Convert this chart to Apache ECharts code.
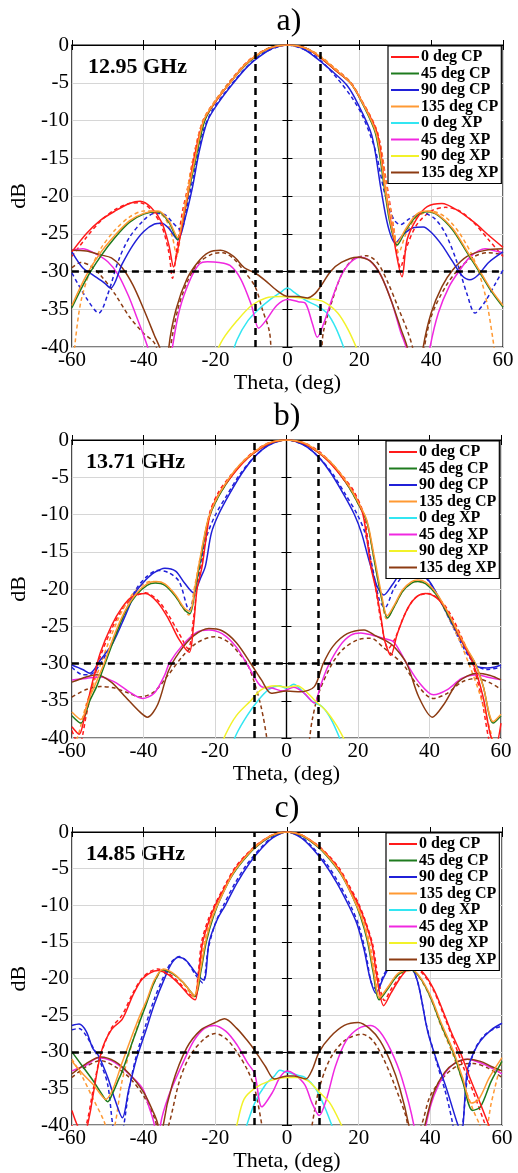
<!DOCTYPE html>
<html>
<head>
<meta charset="utf-8">
<script src="https://cdn.jsdelivr.net/npm/echarts@6/dist/echarts.min.js"></script>
<style>html,body{margin:0;padding:0;background:#fff}#main{width:518px;height:1173px}</style>
</head>
<body>
<div id="main"></div>
<script>
// legend names, colours
var names = ['0 deg CP', '45 deg CP', '90 deg CP', '135 deg CP', '0 deg XP', '45 deg XP', '90 deg XP', '135 deg XP'];
var colors = ['#ff1a1a', '#1e7b1e', '#2020d8', '#ff9933', '#33e6f2', '#f028e0', '#f2f22a', '#8c3b12'];
var panelTitles = ['a)', 'b)', 'c)'];
var freqs = ['12.95 GHz', '13.71 GHz', '14.85 GHz'];
var beamEdge = [-9, 9];   // vertical dashed lines
var xpLevel = -30;        // horizontal dashed line

// ---------- a) 12.95 GHz ----------
var a_cp0 = [[-60,-27.4],[-56,-25],[-52,-23.2],[-48,-22],[-44,-21],[-41,-20.7],[-38,-21.5],[-35,-23.5],[-33,-26.5],[-31.7,-29.4],[-30.5,-27],[-29,-23],[-27.8,-20],[-26,-15],[-23.3,-10],[-20,-7.5],[-16,-5],[-12,-2.7],[-9,-1.5],[-5,-0.4],[0,0],[5,-0.4],[9,-1.6],[13,-3.2],[17.5,-5],[20.5,-7.3],[25,-11.7],[27.2,-19],[29,-24],[31.9,-30.7],[33.3,-25.8],[36,-23],[38.9,-21.4],[43,-21],[47,-21.8],[52,-23.5],[56,-25.2],[60,-26.8]];
var a_cp45 = [[-60,-34.8],[-56,-31],[-52,-28],[-48,-25.5],[-44,-23.5],[-40,-22.4],[-36,-22.1],[-33,-23.5],[-30.5,-25.8],[-29,-23],[-27.3,-19],[-25.5,-15],[-23,-10],[-20,-7.5],[-16,-5],[-12,-2.8],[-9,-1.6],[-5,-0.4],[0,0],[5,-0.4],[9,-1.6],[13,-3.2],[17.5,-5],[20.5,-7.4],[24.5,-11.7],[27,-19],[28.5,-23.5],[30.5,-26.5],[33,-24.5],[36,-22.6],[39,-22.1],[42,-22.6],[46,-24.5],[50,-27.5],[54,-30.5],[57,-32.8],[60,-34.7]];
var a_cp90 = [[-60,-27.4],[-57,-29.5],[-54,-30.5],[-51,-31.5],[-49.2,-32.2],[-46,-29],[-43,-26.5],[-40,-24.7],[-37,-23.7],[-35,-23.6],[-33,-24.3],[-30.5,-25.8],[-28.5,-23],[-26.5,-19],[-24.5,-14],[-22.2,-10],[-19,-7.5],[-15,-5],[-11,-2.8],[-8,-1.6],[-4,-0.4],[0,0],[4,-0.4],[8,-1.7],[12,-3.3],[16.5,-5.3],[19.5,-7.7],[23.5,-12],[26,-19],[28,-24],[30,-26.2],[32.5,-25],[35,-24.2],[37.8,-24.1],[40,-24.8],[43,-26.5],[46,-28.7],[48.5,-30.5],[50.8,-31.1],[53,-30.5],[56,-28.8],[60,-27.4]];
var a_cp135 = [[-60,-34.5],[-56,-30.5],[-52,-27.5],[-48,-25.2],[-44,-23.3],[-40,-22.3],[-36,-22],[-33,-23.3],[-30.5,-25.5],[-29,-22.5],[-27.5,-19],[-25.7,-15],[-23.3,-10],[-20,-7.4],[-16,-5],[-12,-2.7],[-9,-1.5],[-5,-0.4],[0,0],[5,-0.4],[9,-1.5],[13,-3.1],[17.5,-5],[20.5,-7.3],[24.7,-11.7],[27.2,-19],[28.7,-23.5],[30.5,-26.2],[33,-24.3],[36,-22.4],[39,-22],[42,-22.5],[46,-24.3],[50,-27.3],[54,-30.3],[57,-32.6],[60,-34.5]];
var a_xp0 = [[-16,-42],[-14,-39],[-11,-36.5],[-8,-35],[-5,-33.8],[-2,-32.8],[0,-32.2],[2,-32.8],[5,-33.8],[8,-34.5],[11,-35.5],[13.5,-37.5],[16,-40.5]];
var a_xp45 = [[-60,-27.2],[-57,-27],[-54,-27.5],[-50,-28.7],[-47,-30.5],[-44,-33.5],[-42,-36],[-40,-38.5],[-38,-41.5],[-35,-50],[-32,-40],[-30,-35],[-27,-31],[-24.5,-29],[-22.3,-28.7],[-19,-28.8],[-16,-29.2],[-13,-31],[-10,-34.5],[-8,-37.5],[-6,-36.5],[-3,-34.5],[0,-33.7],[3,-34],[5,-34.2],[7,-37],[8.3,-38.7],[10,-37],[12.5,-33.5],[15,-30.5],[17.5,-28.8],[20.3,-28.1],[23,-28.6],[26,-30.5],[29,-34],[31.5,-38],[33.3,-40.5],[36,-50],[39.7,-40],[42,-35.5],[45,-32],[48,-29.8],[51,-28],[55,-27],[58,-27.3],[60,-27.5]];
var a_xp90 = [[-21,-42],[-18,-39],[-14,-36.5],[-10,-34.5],[-6,-33.5],[-2,-33.3],[2,-33.4],[6,-33.6],[10,-34],[14,-35.5],[17,-37.8],[20,-41]];
var a_xp135 = [[-60,-27.2],[-56,-27.3],[-52,-27.8],[-49,-28.2],[-46,-29.5],[-43,-31.8],[-40,-35],[-37,-38.5],[-35.3,-40.5],[-34,-48],[-33,-40],[-31,-35],[-28,-31],[-25,-28.8],[-22,-27.5],[-18.6,-27.2],[-15,-28],[-12,-29.5],[-9,-30.2],[-6.4,-31.1],[-3,-32.5],[0,-33.3],[3,-33.3],[5.6,-33.5],[7.5,-33],[9.2,-32],[12,-30],[15,-28.8],[19.4,-28.1],[23,-28.6],[26,-30.5],[29,-34],[31.5,-37.5],[33.6,-40.5],[35.5,-48],[37.8,-40],[40,-35.5],[43,-32],[46,-29.8],[50,-28],[55,-27.2],[60,-27]];
// simulated (dashed)
var a_cp0s = [[-60,-28],[-56,-25.5],[-52,-23.3],[-48,-21.8],[-44,-21],[-41,-20.9],[-38,-21.8],[-35,-24],[-33,-27.5],[-32,-30.9],[-30.8,-27],[-29.2,-22],[-27.8,-19],[-26,-14.5],[-23.5,-10],[-20,-7.3],[-16,-4.8],[-12,-2.6],[-9,-1.4],[-5,-0.4],[0,0],[5,-0.4],[9,-1.5],[13,-3],[17.5,-4.9],[20.5,-7.2],[25,-11.5],[27.5,-18],[29.5,-24],[31.5,-29.5],[33,-27],[36,-23.8],[40,-22],[44,-21.5],[48,-22],[52,-23.6],[56,-25.8],[60,-28]];
var a_cp90s = [[-60,-30.2],[-56,-33.5],[-52.5,-35.5],[-50,-33],[-47,-28.5],[-44,-25.5],[-40,-23.2],[-37,-22.3],[-34,-22.5],[-32,-23.5],[-29.7,-24.5],[-28,-21.5],[-26,-17],[-23.5,-11.5],[-21,-8.7],[-18,-6.7],[-14,-4.3],[-10,-2.3],[-6,-0.9],[0,0],[6,-0.9],[10,-2.4],[14,-4.5],[18,-7],[21,-9.5],[24.5,-14],[27,-19.5],[29.5,-23],[31.4,-23.8],[34,-23],[37.8,-22.3],[41,-23],[44,-25],[47,-28.5],[50,-33],[52.2,-35.5],[55,-34],[58,-31.5],[60,-29.8]];
var a_cp135s = [[-60,-44],[-59,-39],[-57.5,-34],[-55,-30],[-52,-27],[-48,-24.5],[-44,-22.8],[-40,-22],[-37,-22],[-34,-23],[-32,-25.5],[-30.8,-28],[-29.5,-24],[-27.8,-19],[-26,-14.5],[-23.5,-10],[-20,-7.3],[-16,-4.8],[-12,-2.6],[-9,-1.4],[-5,-0.4],[0,0],[5,-0.4],[9,-1.4],[13,-3],[17.5,-4.9],[20.5,-7.2],[25,-11.5],[27.5,-18.5],[29.5,-24],[31,-27.5],[33,-25],[36,-22.8],[40,-22],[44,-22.8],[48,-25],[52,-28.5],[55,-33],[57.2,-39],[58.5,-44]];
var a_xp135s = [[-60,-29.5],[-57.5,-28.8],[-55,-29.2],[-52,-30.5],[-48,-33],[-44,-36],[-40,-38.2],[-37,-39.5],[-35.5,-42],[-34,-48],[-32.5,-40],[-30.5,-35],[-28,-31.5],[-25,-29],[-21,-27.7],[-18,-27.5],[-15,-28.3],[-12,-30],[-9,-32],[-7,-35],[-5,-38],[-3,-45],[8,-45],[10,-38],[12.5,-33.8],[15,-30.5],[18,-28.5],[22,-27.9],[25,-28.8],[28,-31.5],[31,-35],[33.5,-38],[35,-40.5],[36.5,-48],[38,-40.5],[40,-36],[44,-32],[48,-29.5],[52,-28],[56,-27.5],[60,-27.8]];

// ---------- b) 13.71 GHz ----------
var b_cp0 = [[-60,-38.5],[-58,-39.5],[-56,-36],[-54,-32],[-52,-28.5],[-49,-25],[-46,-22.5],[-43,-21],[-39.4,-20.6],[-36,-21.8],[-33,-24],[-30,-26.8],[-27.2,-28.5],[-26,-25],[-25,-20],[-23.6,-17],[-21.4,-10],[-19,-7.3],[-16.2,-5.4],[-12,-3],[-9,-1.7],[-5,-0.5],[0,0],[5,-0.5],[9,-1.7],[12,-3],[16.2,-5.4],[19,-7.3],[21.4,-10],[23.6,-17],[25,-20],[26.5,-24],[27.5,-27],[29.2,-28.9],[31,-26],[34,-22.5],[36.5,-21],[38.9,-20.6],[42,-21.2],[45,-23],[48,-26],[52.2,-30],[55,-34.5],[57,-39.5],[58.5,-41],[60,-38]];
var b_cp45 = [[-60,-37],[-57.5,-38],[-55,-35],[-53,-33],[-51.4,-30.9],[-48,-26.5],[-45,-23],[-42,-20.8],[-39,-19.5],[-36.7,-19.2],[-34,-19.5],[-31,-21],[-28.5,-22.8],[-27,-23.3],[-25.5,-20],[-24,-16],[-22,-11],[-20,-8.5],[-17,-6],[-13,-3.4],[-9,-1.7],[-5,-0.5],[0,0],[5,-0.5],[9,-1.7],[13,-3.4],[17,-6],[20,-8.5],[22.5,-11],[24.5,-16],[26.5,-21],[28.3,-23.9],[30,-22.5],[32.5,-20.3],[35,-19.2],[36.7,-19],[39,-19.3],[42,-20.8],[45,-23.3],[48,-26],[50.5,-28.2],[52.8,-30],[55,-33],[57.8,-38],[60,-37]];
var b_cp90 = [[-60,-30.2],[-57,-30.8],[-55,-31.3],[-52,-29.5],[-48.6,-27.3],[-45,-23.5],[-42,-20.3],[-39.4,-18.8],[-37,-17.8],[-34,-17.2],[-31,-17.6],[-28.5,-19.2],[-26,-20.5],[-24,-18.5],[-22.7,-17],[-21,-12.5],[-19,-10],[-16,-7.3],[-12.5,-4.5],[-9,-2.3],[-5,-0.7],[0,0],[5,-0.7],[9,-2.3],[12.5,-4.5],[16,-7.3],[19,-10],[21,-12.5],[23,-16],[25.5,-19.8],[27.2,-20.8],[29.5,-19.5],[32,-17.8],[34.4,-17.2],[37,-17.6],[40,-19],[43,-21.5],[46,-24.3],[49,-27],[51.5,-29.2],[53.3,-30.4],[56,-30.6],[58,-30.5],[60,-30.2]];
var b_cp135 = [[-60,-36.5],[-57.5,-37.5],[-55,-34.5],[-53,-32.3],[-51,-30],[-48,-26],[-45,-22.8],[-42,-20.6],[-39,-19.3],[-36.5,-19],[-34,-19.3],[-31,-20.8],[-28.5,-22.6],[-27,-23],[-25.5,-19.5],[-24,-15.5],[-22,-10.8],[-20,-8.3],[-17,-5.8],[-13,-3.3],[-9,-1.6],[-5,-0.4],[0,0],[5,-0.4],[9,-1.6],[13,-3.3],[17,-5.8],[20,-8.3],[22.5,-10.8],[24.5,-15.5],[26.5,-20.5],[28.2,-23.6],[30,-22.3],[32.5,-20.1],[35,-19],[36.7,-18.8],[39,-19.1],[42,-20.6],[45,-23],[48,-25.8],[50.5,-28],[52.8,-30],[55,-33],[57.8,-37.8],[60,-36.8]];
var b_xp0 = [[-16,-42],[-14,-39.5],[-11,-37],[-8,-35],[-5,-33.5],[-2,-33],[0,-33.3],[2,-32.8],[4,-33.5],[7,-35],[10,-35.8],[12.5,-37.5],[15.3,-40.5]];
var b_xp45 = [[-60,-32.2],[-56,-32],[-52,-31.8],[-48,-32.5],[-44,-33.8],[-40.3,-34.7],[-37,-34],[-34,-31.5],[-32.8,-30],[-29,-27.5],[-25,-25.8],[-21.7,-25.5],[-18,-26],[-14,-27.8],[-10.5,-30.5],[-7,-33.1],[-4,-33.3],[-1,-33.7],[2,-33.2],[5,-34],[7.8,-35.3],[9.5,-33],[11.6,-30.4],[15,-27.6],[18,-26.2],[20.8,-25.9],[24,-26.2],[27,-26.6],[30,-27.1],[33.6,-30],[37,-32.5],[41.1,-34.2],[45,-33.5],[49,-32],[53,-31.5],[56,-31.8],[60,-32.2]];
var b_xp90 = [[-19,-42],[-17,-39.5],[-14,-37],[-10,-35],[-7,-33.5],[-3,-33],[0,-33.2],[3,-33],[6,-34],[8,-35],[11,-36.3],[14,-38.3],[16.5,-40.5]];
var b_xp135 = [[-60,-32.5],[-56,-31.8],[-53,-31.5],[-49,-32.5],[-45,-34.5],[-41,-36.5],[-38.9,-37.2],[-36,-35.5],[-33,-31],[-30,-28.5],[-26,-26.3],[-21.7,-25.3],[-18,-25.6],[-14,-27.2],[-9.7,-30.2],[-7,-32.2],[-4.2,-34],[0,-33.7],[4,-33.8],[7.8,-33.1],[10.3,-30],[13,-27.7],[17,-26],[21.7,-25.5],[25,-26.3],[28,-27],[30,-27.7],[33.6,-30],[37,-34.5],[40.8,-37.2],[44,-35.5],[48,-32.5],[53.3,-31.3],[57,-31.6],[60,-32.2]];
var b_cp0s = [[-60,-39],[-58,-41],[-56,-37],[-54,-32.5],[-52,-29],[-49,-25.5],[-46,-22.8],[-43,-21.2],[-39.5,-20.5],[-36,-21.5],[-33,-23.5],[-30,-26],[-27.5,-28],[-26,-24],[-24.8,-19],[-23.5,-16],[-21.6,-10],[-19,-7],[-16,-5],[-12,-2.8],[-9,-1.5],[-5,-0.4],[0,0],[5,-0.4],[9,-1.5],[12,-2.8],[16,-5],[19,-7],[21.6,-10],[23.5,-16],[25,-20],[26.5,-24.5],[28.5,-28],[30.5,-26.5],[33,-23.5],[36,-21.2],[39.5,-20.6],[43,-21.5],[46,-23.5],[49,-26.5],[52,-30],[54.5,-34.5],[56.5,-40],[58,-43],[60,-40]];
var b_cp90s = [[-60,-30.5],[-57,-31.5],[-55,-31.5],[-52,-30],[-48.6,-27],[-45,-23],[-42,-20],[-39,-18.3],[-36,-17.5],[-33,-17.8],[-30,-19],[-27.2,-22.8],[-25.5,-20],[-23.8,-16],[-22,-12.5],[-19.8,-10],[-16.5,-7.3],[-13,-4.6],[-9,-2.3],[-5,-0.7],[0,0],[5,-0.7],[9,-2.3],[13,-4.6],[16.5,-7.3],[19.8,-10],[22,-12.5],[24,-17],[26,-21.5],[27.5,-22.5],[30,-20],[33,-18],[35.5,-17.5],[38,-18],[41,-19.8],[44,-22.5],[47,-25.5],[50,-28.3],[53,-30.2],[56,-30.8],[60,-30.5]];
var b_cp135s = [[-60,-41],[-58.5,-40],[-56,-35.5],[-53,-31.5],[-50,-27.5],[-47,-24],[-44,-21.3],[-41,-19.7],[-38,-19],[-35,-19.2],[-32,-20.3],[-29,-22.5],[-27.3,-23.5],[-25.8,-20],[-24,-15.5],[-22,-11],[-20,-8.5],[-17,-6],[-13,-3.4],[-9,-1.7],[-5,-0.5],[0,0],[5,-0.5],[9,-1.7],[13,-3.4],[17,-6],[20,-8.5],[22.5,-11],[24.5,-16],[26.5,-21],[28,-24],[30,-22.5],[33,-20],[36,-19],[39,-19.3],[42,-20.8],[45,-23.5],[48,-26.5],[51,-30],[54,-34],[57,-39],[58.5,-42]];
var b_xp135s = [[-60,-34.5],[-56,-33.5],[-52,-33.1],[-48,-33.3],[-44,-34],[-41,-34.5],[-37,-33.8],[-33,-31.5],[-29,-29],[-25,-27.2],[-20,-26.4],[-16,-27.2],[-13,-28.8],[-11,-30],[-9,-32.5],[-7,-36],[-5.5,-40],[-4,-46],[5,-46],[6.5,-40],[7.2,-37.6],[9,-34],[12.8,-30],[16,-28],[20,-26.8],[23.6,-26.6],[27,-27.8],[30,-29],[32.5,-30],[36,-32.5],[41,-34.7],[45,-34],[49,-32.5],[53,-32],[57,-32.6],[60,-33.5]];

// ---------- c) 14.85 GHz ----------
var c_cp0 = [[-60,-38],[-58,-40.5],[-56.5,-41],[-55,-38.5],[-54.2,-36.2],[-51.8,-30],[-49,-27],[-45.9,-25.5],[-43,-22.3],[-40.6,-20.2],[-38,-19.2],[-36,-18.9],[-33,-19.5],[-30,-20.8],[-27.5,-22.2],[-25.6,-22.9],[-24.5,-19],[-23.6,-15.3],[-22,-12.5],[-20,-10],[-17,-7.3],[-14.4,-5],[-11,-3],[-8,-1.7],[-4,-0.4],[0,0],[4,-0.4],[8,-1.7],[11,-3],[14.4,-5],[17,-7.3],[20,-10],[22,-12.5],[23.8,-15.5],[25,-19.5],[27,-23.7],[29,-22],[31.5,-20],[33.5,-18.8],[35.5,-18.5],[38,-19.2],[41,-21.5],[44,-25],[46,-27.5],[48.3,-30],[51,-33.5],[53.5,-36.5],[56.3,-40],[58,-42]];
var c_cp45 = [[-60,-30],[-57,-32],[-54,-34],[-52,-35.5],[-50,-36.8],[-48.5,-35.5],[-47,-33.8],[-45.9,-32.6],[-43,-28.5],[-41,-25.8],[-39.4,-23.7],[-37,-20.5],[-34.7,-18.8],[-32,-19.3],[-29,-20.5],[-25.6,-22.4],[-24,-19],[-22.5,-15],[-20.5,-11.5],[-18,-8.5],[-15,-5.7],[-11,-3.2],[-8,-1.8],[-4,-0.5],[0,0],[4,-0.5],[8,-1.8],[11,-3.2],[15,-5.7],[18,-8.5],[20.5,-11.5],[22.5,-15],[24,-19],[25.7,-22.9],[28,-21.5],[31,-19.5],[34.4,-18.8],[37,-19.8],[40,-22.5],[43,-26.3],[46.3,-30],[49,-34],[51.8,-38],[54,-37.5],[57,-34],[60,-31.3]];
var c_cp90 = [[-60,-26.4],[-58,-26.2],[-56,-27.2],[-54.2,-29.5],[-52.6,-30.5],[-50,-33.5],[-48,-36.5],[-45.9,-39],[-44.2,-35.3],[-42,-31],[-39.5,-27.3],[-37,-23.5],[-34,-19.8],[-32,-17.8],[-30.2,-17.1],[-28,-17.6],[-25.5,-19.2],[-23.2,-20.2],[-21.7,-15],[-19.5,-12],[-17.2,-10],[-14,-7],[-10.5,-4.3],[-7,-2.2],[-4,-0.8],[0,0],[4,-0.8],[7,-2.2],[10.5,-4.3],[14,-7],[17.2,-10],[19.5,-12.5],[21.5,-16],[23.2,-20],[24.8,-22],[27,-19.8],[29.5,-17.7],[31.5,-17.2],[34,-17.8],[36.5,-20.5],[39.3,-27.3],[42,-31.5],[44.5,-35],[47.7,-40],[48.7,-41],[50.3,-32.6],[52.2,-30],[54,-28.5],[57,-27],[60,-26.1]];
var c_cp135 = [[-60,-31.3],[-57,-33],[-54,-34.5],[-52,-35.8],[-50.5,-36.5],[-48.5,-35],[-46,-31.5],[-43,-27.5],[-41,-25],[-39,-22.8],[-37,-20.2],[-34.5,-18.7],[-32,-19.2],[-29,-20.5],[-25.8,-22.3],[-24.2,-19],[-22.7,-15],[-20.7,-11.5],[-18,-8.5],[-15,-5.6],[-11,-3.1],[-8,-1.7],[-4,-0.4],[0,0],[4,-0.4],[8,-1.7],[11,-3.1],[15,-5.6],[18,-8.5],[20.7,-11.5],[22.7,-15],[24.2,-19],[25.8,-22.6],[28,-21.3],[31,-19.3],[34.5,-18.7],[37,-19.7],[40,-22.3],[43,-26],[46.5,-30],[49,-33.5],[51.5,-37],[53.5,-36.5],[56.5,-33.5],[60,-30.8]];
var c_xp0 = [[-12.5,-42],[-11.2,-40],[-9,-37],[-6,-34.5],[-3.5,-33.3],[-2,-32.5],[0,-32.8],[3,-33.2],[5,-33.5],[8,-35],[10.5,-37.5],[12.5,-40],[14,-42]];
var c_xp45 = [[-60,-32.6],[-56,-31.8],[-52.6,-30.8],[-49,-31.2],[-45,-32.6],[-40.3,-35],[-38.5,-37.5],[-37,-40],[-36,-46],[-35.3,-40],[-33,-36],[-29.2,-31.7],[-26,-28.5],[-23,-26.8],[-20.3,-26.4],[-17,-27.2],[-14,-29],[-11,-31.5],[-9,-33],[-7,-37.5],[-4,-35.5],[-2,-33.5],[0,-32.6],[2,-33],[5,-34.5],[7,-37],[9,-38.7],[11,-36.5],[13.5,-32],[16.5,-28.5],[20,-26.8],[23.4,-26.4],[26,-27.3],[29,-29.8],[32,-33.5],[35.4,-40],[37,-46],[38.8,-40],[41,-36],[44,-33],[47,-31.5],[50.4,-31],[54,-31.5],[57,-32.2],[60,-33]];
var c_xp90 = [[-15,-42],[-14,-40],[-12,-36.5],[-9,-35],[-5,-34],[0,-33.5],[3,-33.5],[6,-34],[9,-35.5],[12,-37],[15.2,-40],[17,-42]];
var c_xp135 = [[-60,-33],[-56,-31.6],[-52,-30.7],[-48,-31.3],[-44,-33],[-40,-35.5],[-37.5,-38],[-36,-40],[-35.5,-46],[-34.5,-40],[-32,-34.5],[-28,-29.5],[-24,-27],[-20,-26],[-17.4,-25.5],[-14,-26.8],[-11,-28.5],[-9,-29.8],[-6,-32],[-3.5,-33.7],[0,-33.3],[2,-33.3],[5.3,-33.7],[7,-32.5],[9,-30],[12,-28],[16,-26.4],[19.9,-26],[23,-26.8],[26,-28.5],[29,-31.5],[31.5,-35],[34,-40],[36,-46],[38.5,-40],[41,-35.5],[44,-32.8],[47,-31.5],[50.4,-31],[54,-31.3],[57,-32],[60,-32.6]];
var c_cp0s = [[-60,-40],[-58,-42],[-56,-40],[-54,-35],[-52,-30.5],[-49,-26.8],[-46,-25],[-43,-22],[-40.5,-20],[-38,-19],[-36,-18.7],[-33,-19.3],[-30,-20.6],[-27.5,-22],[-25.8,-22.5],[-24.7,-19],[-23.8,-15],[-22,-12],[-20,-9.8],[-17,-7],[-14.4,-4.8],[-11,-2.9],[-8,-1.6],[-4,-0.4],[0,0],[4,-0.4],[8,-1.6],[11,-2.9],[14.4,-4.8],[17,-7],[20,-9.8],[22,-12.3],[24,-15.5],[25.3,-19.5],[27.2,-23],[29,-21.5],[31.5,-19.8],[33.5,-18.8],[35.5,-18.6],[38,-19.4],[41,-21.7],[44,-25.3],[46.5,-28.5],[49,-31.8],[52,-35.5],[55,-39.5],[57,-42]];
var c_cp90s = [[-60,-27],[-58,-26.8],[-56,-27.8],[-54,-29.5],[-52,-31.5],[-50,-34.5],[-48.6,-40],[-47,-44],[-45.5,-40],[-44,-35],[-42,-30.5],[-39.5,-26.5],[-37,-22.8],[-34,-19.3],[-32,-17.6],[-30,-17],[-28,-17.6],[-25.5,-19.5],[-23.5,-20.6],[-22,-16],[-20,-12.5],[-17.7,-10],[-14.5,-7],[-11,-4.3],[-7,-2],[-4,-0.7],[0,0],[4,-0.7],[7,-2],[11,-4.3],[14.5,-7],[17.7,-10],[20,-12.7],[22,-16.5],[23.5,-20.5],[25,-21.5],[27,-19.5],[29.5,-17.6],[31.5,-17.1],[34,-17.8],[36.5,-20.5],[39,-26.5],[42,-31.8],[44.5,-36],[46.3,-40],[47.5,-44],[49,-40],[50.5,-33],[52.5,-29.6],[55,-27.8],[58,-26.8],[60,-26.5]];
var c_cp135s = [[-60,-31],[-57,-33.5],[-54,-36.5],[-51,-39.5],[-49.5,-42],[-48,-40],[-46,-34],[-43,-28.5],[-41,-25.5],[-39,-23],[-37,-20.5],[-34.5,-18.9],[-32,-19.3],[-29,-20.6],[-26,-22.5],[-24.5,-19],[-23,-15],[-21,-11.5],[-18,-8.3],[-15,-5.5],[-11,-3],[-8,-1.6],[-4,-0.4],[0,0],[4,-0.4],[8,-1.6],[11,-3],[15,-5.5],[18,-8.3],[21,-11.5],[23,-15],[24.5,-19],[26,-22.8],[28.5,-21],[31,-19.5],[34.5,-18.9],[37,-19.9],[40,-22.6],[43,-26.5],[46,-30],[49,-34],[52,-38],[53.8,-40],[55,-42],[57,-37],[60,-31]];
var c_xp135s = [[-60,-33.5],[-56,-32],[-52,-31.2],[-48,-32],[-44,-33.5],[-40,-36],[-37,-39],[-35,-42],[-33,-40],[-30,-34],[-27,-30.5],[-23,-28.2],[-20,-27.5],[-17,-28.2],[-14,-30],[-11,-32.5],[-9,-35],[-7,-40],[-5,-46],[5,-46],[7,-40],[9,-35],[12,-31],[16,-28.5],[21,-27.6],[24,-28.5],[27,-31],[30,-34.5],[33,-38.5],[35,-42],[37.5,-40],[40,-36],[44,-33.3],[48,-31.8],[52,-31.6],[56,-32.2],[60,-33.5]];

var panelSolid = [
    [a_cp0, a_cp45, a_cp90, a_cp135, a_xp0, a_xp45, a_xp90, a_xp135],
    [b_cp0, b_cp45, b_cp90, b_cp135, b_xp0, b_xp45, b_xp90, b_xp135],
    [c_cp0, c_cp45, c_cp90, c_cp135, c_xp0, c_xp45, c_xp90, c_xp135]
];
var panelDashed = [
    [a_cp0s, a_cp90s, a_cp135s, a_xp135s],
    [b_cp0s, b_cp90s, b_cp135s, b_xp135s],
    [c_cp0s, c_cp90s, c_cp135s, c_xp135s]
];
var dashedIdx = [0, 2, 3, 7];   // which legend colour each dashed curve uses

var FONT = 'Liberation Serif, Times New Roman, serif';
var grids = [
    {left: 71, top: 45, width: 432, height: 302},
    {left: 69, top: 440, width: 432, height: 298},
    {left: 69, top: 832, width: 433, height: 300}
];

var chart = echarts.init(document.getElementById('main'), null, {renderer: 'canvas'});

var xAxes = [], yAxes = [], xTop = [], yRight = [], series = [], legends = [], graphics = [];
for (var p = 0; p < 3; p++) {
    var g = grids[p];
    g.show = true;
    g.borderColor = '#000';
    g.borderWidth = 1.2;
    xAxes.push({
        type: 'value', gridIndex: p, min: -60, max: 60, interval: 20,
        axisLine: {show: true, lineStyle: {color: '#000', width: 1.2}},
        axisTick: {show: true, inside: true, length: 5, lineStyle: {color: '#000'}},
        axisLabel: {color: '#000', fontFamily: FONT, fontSize: 21, margin: 3},
        splitLine: {show: true, lineStyle: {color: '#d6d6d6', width: 1}},
        name: 'Theta, (deg)', nameLocation: 'middle', nameGap: 18,
        nameTextStyle: {color: '#000', fontFamily: FONT, fontSize: 22}
    });
    yAxes.push({
        type: 'value', gridIndex: p, min: -40, max: 0, interval: 5,
        axisLine: {show: true, lineStyle: {color: '#000', width: 1.2}},
        axisTick: {show: true, inside: true, length: 5, lineStyle: {color: '#000'}},
        axisLabel: {color: '#000', fontFamily: FONT, fontSize: 21, margin: 3},
        splitLine: {show: true, lineStyle: {color: '#d6d6d6', width: 1}},
        name: 'dB', nameLocation: 'middle', nameGap: 36, nameRotate: 90,
        nameTextStyle: {color: '#000', fontFamily: FONT, fontSize: 22}
    });
    // box ticks on top / right
    xTop.push({
        type: 'value', gridIndex: p, min: -60, max: 60, interval: 20, position: 'top',
        axisLine: {show: true, lineStyle: {color: '#000', width: 1.2}},
        axisTick: {show: true, inside: true, length: 5, lineStyle: {color: '#000'}},
        axisLabel: {show: false}, splitLine: {show: false}
    });
    yRight.push({
        type: 'value', gridIndex: p, min: -40, max: 0, interval: 5, position: 'right',
        axisLine: {show: true, lineStyle: {color: '#000', width: 1.2}},
        axisTick: {show: true, inside: true, length: 5, lineStyle: {color: '#000'}},
        axisLabel: {show: false}, splitLine: {show: false}
    });

    // dashed (simulated) curves underneath
    for (var d = 0; d < panelDashed[p].length; d++) {
        var ci = dashedIdx[d];
        series.push({
            type: 'line', name: names[ci] + ' sim', xAxisIndex: p, yAxisIndex: p,
            data: panelDashed[p][d], showSymbol: false, symbol: 'none', smooth: 0.3,
            lineStyle: {color: colors[ci], width: 1.5, type: [4, 3]},
            itemStyle: {color: colors[ci]}, silent: true, clip: true
        });
    }
    // measured curves: XP first, CP on top
    var order = [4, 5, 6, 7, 2, 1, 0, 3];
    for (var k = 0; k < order.length; k++) {
        var i = order[k];
        series.push({
            type: 'line', name: names[i], xAxisIndex: p, yAxisIndex: p,
            data: panelSolid[p][i], showSymbol: false, symbol: 'none', smooth: 0.3,
            lineStyle: {color: colors[i], width: 1.5},
            itemStyle: {color: colors[i]}, silent: true, clip: true
        });
    }
    // black dashed reference lines
    series[series.length - 1].markLine = {
        silent: true, symbol: 'none', animation: false,
        label: {show: false},
        lineStyle: {color: '#000', type: [7, 5], width: 2.5},
        data: [{xAxis: beamEdge[0]}, {xAxis: beamEdge[1]}, {yAxis: xpLevel}]
    };

    legends.push({
        data: names, orient: 'vertical', left: g.left + 317, top: g.top + 1,
        backgroundColor: '#fff', borderColor: '#000', borderWidth: 1.2,
        padding: [3, 3, 3, 3], itemGap: 0.5, itemWidth: 28, itemHeight: 2, icon: 'rect',
        selectedMode: false,
        textStyle: {color: '#000', fontFamily: FONT, fontSize: 16, fontWeight: 'bold', lineHeight: 15, padding: [0, 0, 0, -3]}
    });

    graphics.push({
        type: 'text', x: g.left + 218, y: g.top - 23,
        style: {text: panelTitles[p], font: '32px ' + FONT, fill: '#000', textAlign: 'center', textVerticalAlign: 'middle'}
    });
    graphics.push({
        type: 'text', x: g.left + 17, y: g.top + 22,
        style: {text: freqs[p], font: 'bold 22px ' + FONT, fill: '#000', textAlign: 'left', textVerticalAlign: 'middle'}
    });
}

chart.setOption({
    animation: false,
    backgroundColor: '#fff',
    grid: grids,
    xAxis: xAxes.concat(xTop),
    yAxis: yAxes.concat(yRight),
    legend: legends,
    graphic: graphics,
    series: series
});
</script>
</body>
</html>
